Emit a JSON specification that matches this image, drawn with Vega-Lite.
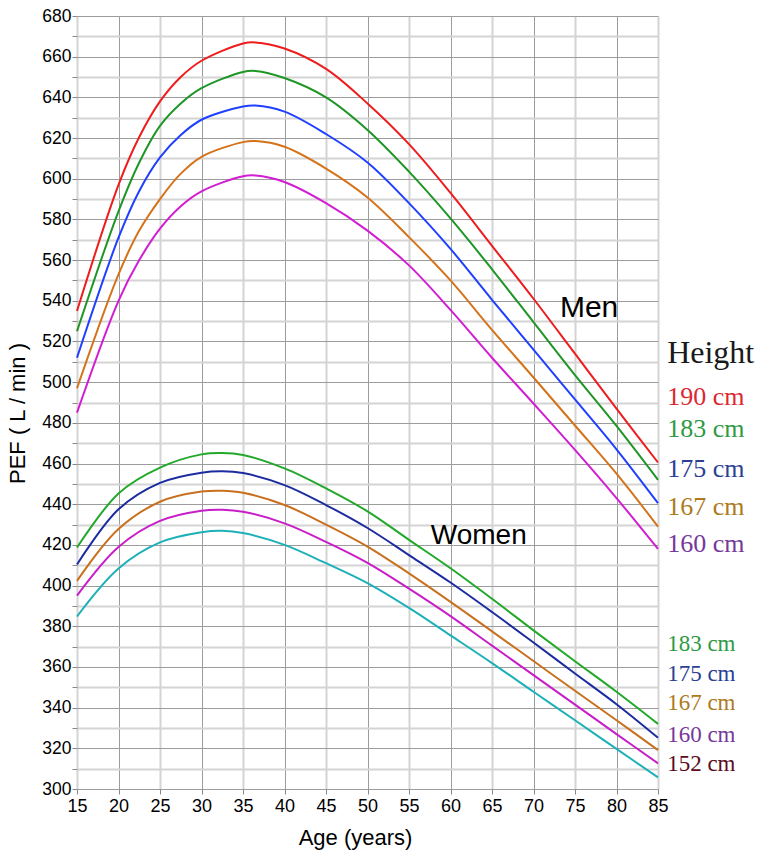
{
  "$schema": "https://vega.github.io/schema/vega-lite/v6.json",
  "width": 581,
  "height": 773,
  "autosize": {"type": "none"},
  "padding": {"left": 77, "top": 16, "right": 105, "bottom": 64},
  "background": "white",
  "config": {"view": {"stroke": null}, "font": "Liberation Sans"},
  "datasets": {
    "curves": [
      {"series": "M190", "age": 15, "pef": 535}, {"series": "M190", "age": 20, "pef": 597}, {"series": "M190", "age": 22.5, "pef": 620.5}, {"series": "M190", "age": 25, "pef": 638}, {"series": "M190", "age": 27.5, "pef": 650}, {"series": "M190", "age": 30, "pef": 658}, {"series": "M190", "age": 35, "pef": 666.5}, {"series": "M190", "age": 36.5, "pef": 667}, {"series": "M190", "age": 40, "pef": 664}, {"series": "M190", "age": 45, "pef": 654}, {"series": "M190", "age": 50, "pef": 637}, {"series": "M190", "age": 55, "pef": 617}, {"series": "M190", "age": 60, "pef": 593}, {"series": "M190", "age": 65, "pef": 567}, {"series": "M190", "age": 70, "pef": 541}, {"series": "M190", "age": 75, "pef": 514}, {"series": "M190", "age": 80, "pef": 487}, {"series": "M190", "age": 85, "pef": 460.5},
      {"series": "M183", "age": 15, "pef": 525}, {"series": "M183", "age": 20, "pef": 584}, {"series": "M183", "age": 22.5, "pef": 608}, {"series": "M183", "age": 25, "pef": 626}, {"series": "M183", "age": 27.5, "pef": 637}, {"series": "M183", "age": 30, "pef": 644.5}, {"series": "M183", "age": 35, "pef": 652.5}, {"series": "M183", "age": 36.5, "pef": 653}, {"series": "M183", "age": 40, "pef": 649.5}, {"series": "M183", "age": 45, "pef": 640}, {"series": "M183", "age": 50, "pef": 624}, {"series": "M183", "age": 55, "pef": 603.5}, {"series": "M183", "age": 60, "pef": 580.5}, {"series": "M183", "age": 65, "pef": 555.5}, {"series": "M183", "age": 70, "pef": 529.5}, {"series": "M183", "age": 75, "pef": 503.5}, {"series": "M183", "age": 80, "pef": 478.5}, {"series": "M183", "age": 85, "pef": 452},
      {"series": "M175", "age": 15, "pef": 512}, {"series": "M175", "age": 20, "pef": 571}, {"series": "M175", "age": 22.5, "pef": 594}, {"series": "M175", "age": 25, "pef": 610.5}, {"series": "M175", "age": 27.5, "pef": 621.5}, {"series": "M175", "age": 30, "pef": 629}, {"series": "M175", "age": 35, "pef": 635.5}, {"series": "M175", "age": 36.5, "pef": 636}, {"series": "M175", "age": 40, "pef": 633}, {"series": "M175", "age": 45, "pef": 622}, {"series": "M175", "age": 50, "pef": 608}, {"series": "M175", "age": 55, "pef": 588}, {"series": "M175", "age": 60, "pef": 565.5}, {"series": "M175", "age": 65, "pef": 540.5}, {"series": "M175", "age": 70, "pef": 516}, {"series": "M175", "age": 75, "pef": 491.5}, {"series": "M175", "age": 80, "pef": 467}, {"series": "M175", "age": 85, "pef": 440.5},
      {"series": "M167", "age": 15, "pef": 497}, {"series": "M167", "age": 20, "pef": 553}, {"series": "M167", "age": 22.5, "pef": 574.5}, {"series": "M167", "age": 25, "pef": 590}, {"series": "M167", "age": 27.5, "pef": 602.5}, {"series": "M167", "age": 30, "pef": 610.8}, {"series": "M167", "age": 35, "pef": 618}, {"series": "M167", "age": 36.5, "pef": 618.5}, {"series": "M167", "age": 40, "pef": 615.7}, {"series": "M167", "age": 45, "pef": 605}, {"series": "M167", "age": 50, "pef": 590.8}, {"series": "M167", "age": 55, "pef": 571.3}, {"series": "M167", "age": 60, "pef": 550}, {"series": "M167", "age": 65, "pef": 525.7}, {"series": "M167", "age": 70, "pef": 502.3}, {"series": "M167", "age": 75, "pef": 478.7}, {"series": "M167", "age": 80, "pef": 455}, {"series": "M167", "age": 85, "pef": 429},
      {"series": "M160", "age": 15, "pef": 485}, {"series": "M160", "age": 20, "pef": 540}, {"series": "M160", "age": 22.5, "pef": 560}, {"series": "M160", "age": 25, "pef": 575.5}, {"series": "M160", "age": 27.5, "pef": 586.5}, {"series": "M160", "age": 30, "pef": 593.8}, {"series": "M160", "age": 35, "pef": 601.2}, {"series": "M160", "age": 36.5, "pef": 601.6}, {"series": "M160", "age": 40, "pef": 598.4}, {"series": "M160", "age": 45, "pef": 588}, {"series": "M160", "age": 50, "pef": 574.5}, {"series": "M160", "age": 55, "pef": 557.4}, {"series": "M160", "age": 60, "pef": 535.5}, {"series": "M160", "age": 65, "pef": 512}, {"series": "M160", "age": 70, "pef": 489.5}, {"series": "M160", "age": 75, "pef": 466.7}, {"series": "M160", "age": 80, "pef": 443}, {"series": "M160", "age": 85, "pef": 418},
      {"series": "W183", "age": 15, "pef": 418.7}, {"series": "W183", "age": 20, "pef": 445.3}, {"series": "W183", "age": 25, "pef": 458}, {"series": "W183", "age": 30, "pef": 464.5}, {"series": "W183", "age": 32.5, "pef": 465.2}, {"series": "W183", "age": 35, "pef": 464.2}, {"series": "W183", "age": 40, "pef": 457.6}, {"series": "W183", "age": 45, "pef": 447.8}, {"series": "W183", "age": 50, "pef": 436.5}, {"series": "W183", "age": 55, "pef": 422.5}, {"series": "W183", "age": 60, "pef": 408.5}, {"series": "W183", "age": 65, "pef": 393.5}, {"series": "W183", "age": 70, "pef": 378}, {"series": "W183", "age": 75, "pef": 362.8}, {"series": "W183", "age": 80, "pef": 347.8}, {"series": "W183", "age": 85, "pef": 332},
      {"series": "W175", "age": 15, "pef": 410.4}, {"series": "W175", "age": 20, "pef": 437.5}, {"series": "W175", "age": 25, "pef": 450.5}, {"series": "W175", "age": 30, "pef": 455.5}, {"series": "W175", "age": 32.5, "pef": 456.2}, {"series": "W175", "age": 35, "pef": 455.3}, {"series": "W175", "age": 40, "pef": 449.4}, {"series": "W175", "age": 45, "pef": 439.6}, {"series": "W175", "age": 50, "pef": 428.3}, {"series": "W175", "age": 55, "pef": 415}, {"series": "W175", "age": 60, "pef": 401.5}, {"series": "W175", "age": 65, "pef": 387}, {"series": "W175", "age": 70, "pef": 372}, {"series": "W175", "age": 75, "pef": 356.8}, {"series": "W175", "age": 80, "pef": 341.7}, {"series": "W175", "age": 85, "pef": 325.2},
      {"series": "W167", "age": 15, "pef": 402.3}, {"series": "W167", "age": 20, "pef": 427.8}, {"series": "W167", "age": 25, "pef": 441.2}, {"series": "W167", "age": 30, "pef": 446.2}, {"series": "W167", "age": 32.5, "pef": 446.6}, {"series": "W167", "age": 35, "pef": 445.6}, {"series": "W167", "age": 40, "pef": 439.6}, {"series": "W167", "age": 45, "pef": 430}, {"series": "W167", "age": 50, "pef": 419.2}, {"series": "W167", "age": 55, "pef": 406}, {"series": "W167", "age": 60, "pef": 392}, {"series": "W167", "age": 65, "pef": 377.5}, {"series": "W167", "age": 70, "pef": 362.9}, {"series": "W167", "age": 75, "pef": 348.3}, {"series": "W167", "age": 80, "pef": 333.8}, {"series": "W167", "age": 85, "pef": 319.1},
      {"series": "W160", "age": 15, "pef": 395.1}, {"series": "W160", "age": 20, "pef": 419}, {"series": "W160", "age": 25, "pef": 431.8}, {"series": "W160", "age": 30, "pef": 436.8}, {"series": "W160", "age": 32.5, "pef": 437.3}, {"series": "W160", "age": 35, "pef": 436.3}, {"series": "W160", "age": 40, "pef": 430.6}, {"series": "W160", "age": 45, "pef": 421.5}, {"series": "W160", "age": 50, "pef": 411.2}, {"series": "W160", "age": 55, "pef": 398.5}, {"series": "W160", "age": 60, "pef": 385}, {"series": "W160", "age": 65, "pef": 370.5}, {"series": "W160", "age": 70, "pef": 356}, {"series": "W160", "age": 75, "pef": 341.5}, {"series": "W160", "age": 80, "pef": 327}, {"series": "W160", "age": 85, "pef": 312.6},
      {"series": "W152", "age": 15, "pef": 384.8}, {"series": "W152", "age": 20, "pef": 408.4}, {"series": "W152", "age": 25, "pef": 421.2}, {"series": "W152", "age": 30, "pef": 426.2}, {"series": "W152", "age": 32.5, "pef": 426.9}, {"series": "W152", "age": 35, "pef": 425.8}, {"series": "W152", "age": 40, "pef": 420}, {"series": "W152", "age": 45, "pef": 411}, {"series": "W152", "age": 50, "pef": 401.2}, {"series": "W152", "age": 55, "pef": 389}, {"series": "W152", "age": 60, "pef": 375.5}, {"series": "W152", "age": 65, "pef": 361.9}, {"series": "W152", "age": 70, "pef": 347.8}, {"series": "W152", "age": 75, "pef": 333.8}, {"series": "W152", "age": 80, "pef": 319.7}, {"series": "W152", "age": 85, "pef": 305.7}
    ],
    "labels": [
      {"label": "Height", "group": "height", "age": 86.1, "pef": 509.6},
      {"label": "190 cm", "group": "men", "age": 86.1, "pef": 488.8},
      {"label": "183 cm", "group": "men", "age": 86.1, "pef": 473.2},
      {"label": "175 cm", "group": "men", "age": 86.1, "pef": 453.5},
      {"label": "167 cm", "group": "men", "age": 86.1, "pef": 434.7},
      {"label": "160 cm", "group": "men", "age": 86.1, "pef": 416.7},
      {"label": "183 cm", "group": "women", "age": 86.1, "pef": 367.8},
      {"label": "175 cm", "group": "women", "age": 86.1, "pef": 353.2},
      {"label": "167 cm", "group": "women", "age": 86.1, "pef": 338.8},
      {"label": "160 cm", "group": "women", "age": 86.1, "pef": 323.3},
      {"label": "152 cm", "group": "women", "age": 86.1, "pef": 309},
      {"label": "Men", "group": "men_title", "age": 76.7, "pef": 532.2},
      {"label": "Women", "group": "women_title", "age": 63.4, "pef": 420.4}
    ]
  },
  "encoding": {
    "x": {
      "field": "age", "type": "quantitative",
      "scale": {"domain": [15, 85], "nice": false, "zero": false},
      "axis": {
        "values": [15, 20, 25, 30, 35, 40, 45, 50, 55, 60, 65, 70, 75, 80, 85],
        "title": "Age (years)", "titleFontSize": 22, "titleFontWeight": "normal", "titleColor": "#000",
        "titleFont": "Liberation Sans", "titlePadding": 12, "titleX": 278,
        "labelFont": "Liberation Sans", "labelFontSize": 18, "labelColor": "#000", "labelPadding": 3,
        "labelFlush": false, "labelOverlap": false, "ticks": true, "tickSize": 5, "tickColor": "#888888", "domain": false,
        "grid": true,
        "gridColor": {"condition": {"test": "datum.value % 10 === 0", "value": "#9c9c9c"}, "value": "#d4d4d4"},
        "gridWidth": {"condition": {"test": "datum.value % 10 === 0", "value": 1}, "value": 2}
      }
    },
    "y": {
      "field": "pef", "type": "quantitative",
      "scale": {"domain": [300, 680], "nice": false, "zero": false},
      "axis": {
        "values": [300, 310, 320, 330, 340, 350, 360, 370, 380, 390, 400, 410, 420, 430, 440, 450, 460, 470, 480, 490, 500, 510, 520, 530, 540, 550, 560, 570, 580, 590, 600, 610, 620, 630, 640, 650, 660, 670, 680],
        "labelExpr": "datum.value % 20 === 0 ? datum.label : ''",
        "title": "PEF ( L / min )", "titleFontSize": 22, "titleFontWeight": "normal", "titleColor": "#000",
        "titleFont": "Liberation Sans", "titlePadding": 12, "titleY": 397,
        "labelFont": "Liberation Sans", "labelFontSize": 17.5, "labelColor": "#000", "labelPadding": 1,
        "labelOverlap": false, "ticks": true, "tickSize": 5, "tickColor": "#888888", "domain": false,
        "grid": true,
        "gridColor": {"condition": {"test": "datum.value % 20 === 0", "value": "#9c9c9c"}, "value": "#d4d4d4"},
        "gridWidth": {"condition": {"test": "datum.value % 20 === 0", "value": 1}, "value": 2}
      }
    }
  },
  "layer": [
    {
      "data": {"name": "curves"},
      "mark": {"type": "line", "interpolate": "catmull-rom", "strokeWidth": 2},
      "encoding": {
        "detail": {"field": "series", "type": "nominal"},
        "color": {
          "field": "series", "type": "nominal", "legend": null,
          "scale": {
            "domain": ["M190", "M183", "M175", "M167", "M160", "W183", "W175", "W167", "W160", "W152"],
            "range": ["#ee1c1c", "#1e9626", "#2040ff", "#d4731a", "#d21ed2", "#22a82a", "#1c2ca0", "#c8701e", "#c81ec8", "#1eb0b8"]
          }
        }
      }
    },
    {
      "data": {"name": "labels"},
      "transform": [{"filter": "datum.group === 'height'"}],
      "mark": {"type": "text", "font": "Liberation Serif", "fontSize": 32, "align": "left", "baseline": "alphabetic", "color": "#1a1a1a"},
      "encoding": {"text": {"field": "label"}}
    },
    {
      "data": {"name": "labels"},
      "transform": [{"filter": "datum.group === 'men'"}],
      "mark": {"type": "text", "font": "Liberation Serif", "fontSize": 26, "align": "left", "baseline": "alphabetic"},
      "encoding": {
        "text": {"field": "label"},
        "color": {
          "field": "label", "type": "nominal", "legend": null,
          "scale": {"domain": ["190 cm", "183 cm", "175 cm", "167 cm", "160 cm", "152 cm"], "range": ["#dc2832", "#2f9a44", "#2b3f96", "#ad7a1e", "#76389a", "#5c0c1e"]}
        }
      }
    },
    {
      "data": {"name": "labels"},
      "transform": [{"filter": "datum.group === 'women'"}],
      "mark": {"type": "text", "font": "Liberation Serif", "fontSize": 23, "align": "left", "baseline": "alphabetic"},
      "encoding": {
        "text": {"field": "label"},
        "color": {
          "field": "label", "type": "nominal", "legend": null,
          "scale": {"domain": ["190 cm", "183 cm", "175 cm", "167 cm", "160 cm", "152 cm"], "range": ["#dc2832", "#2f9a44", "#2b3f96", "#ad7a1e", "#76389a", "#5c0c1e"]}
        }
      }
    },
    {
      "data": {"name": "labels"},
      "transform": [{"filter": "datum.group === 'men_title'"}],
      "mark": {"type": "text", "font": "Liberation Sans", "fontSize": 30, "align": "center", "baseline": "alphabetic", "color": "#000"},
      "encoding": {"text": {"field": "label"}}
    },
    {
      "data": {"name": "labels"},
      "transform": [{"filter": "datum.group === 'women_title'"}],
      "mark": {"type": "text", "font": "Liberation Sans", "fontSize": 28, "align": "center", "baseline": "alphabetic", "color": "#000"},
      "encoding": {"text": {"field": "label"}}
    }
  ],
  "resolve": {"scale": {"color": "independent"}}
}
